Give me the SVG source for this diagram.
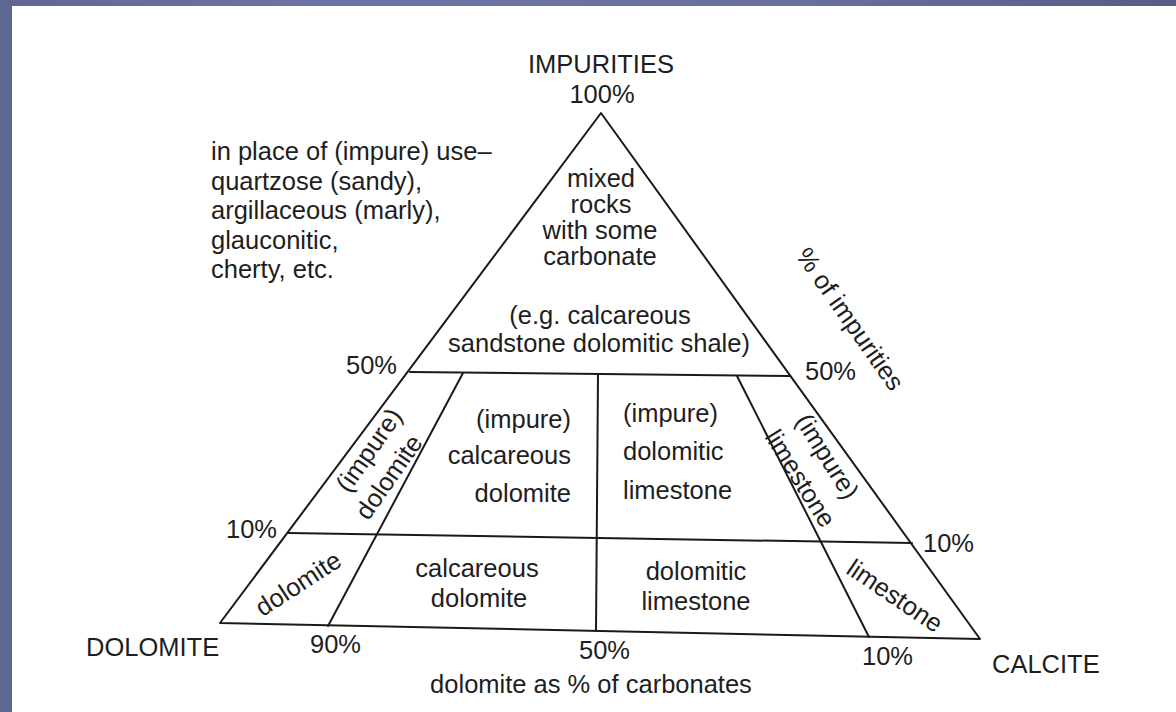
<svg xmlns="http://www.w3.org/2000/svg" width="1176" height="712" viewBox="0 0 1176 712">
<defs>
<linearGradient id="topband" x1="0" y1="0" x2="1" y2="0">
<stop offset="0" stop-color="#5f6894"/>
<stop offset="0.3" stop-color="#6c75a8"/>
<stop offset="0.7" stop-color="#66709e"/>
<stop offset="1" stop-color="#565c84"/>
</linearGradient>
<style>
text{font-family:"Liberation Sans",Arial,sans-serif;font-size:25.5px;fill:#1e1e1e}
.m{text-anchor:middle}
.e{text-anchor:end}
.ln{stroke:#1a1a1a;stroke-width:2;fill:none;stroke-linecap:round;stroke-linejoin:round}
</style>
</defs>
<rect x="0" y="0" width="1176" height="712" fill="#ffffff"/>
<rect x="0" y="0" width="1176" height="6" fill="url(#topband)"/>
<rect x="0" y="0" width="12" height="712" fill="#5d6792"/>

<g id="connectors">
<polygon class="ln" points="601,113 220,623 980,639"/>
<line class="ln" x1="410" y1="372" x2="790" y2="376"/>
<line class="ln" x1="288" y1="533" x2="912" y2="543"/>
<line class="ln" x1="463" y1="373" x2="328" y2="626"/>
<line class="ln" x1="598" y1="375" x2="596" y2="631"/>
<line class="ln" x1="737" y1="376" x2="869" y2="637"/>
</g>

<g id="apex-label">
<text class="m" x="601" y="73">IMPURITIES</text>
<text class="m" x="602" y="103">100%</text>
</g>

<g id="note">
<text x="211" y="160">in place of (impure) use–</text>
<text x="211" y="190">quartzose (sandy),</text>
<text x="211" y="219">argillaceous (marly),</text>
<text x="211" y="249">glauconitic,</text>
<text x="211" y="278">cherty, etc.</text>
</g>

<g id="mixed-rocks">
<text class="m" x="601" y="187">mixed</text>
<text class="m" x="601" y="213">rocks</text>
<text class="m" x="600" y="239">with some</text>
<text class="m" x="600" y="265">carbonate</text>
<text class="m" x="600" y="324">(e.g. calcareous</text>
<text class="m" x="599" y="352">sandstone dolomitic shale)</text>
</g>

<g id="impure-dolomite">
<text class="m" transform="translate(376,455) rotate(-55)">(impure)</text>
<text class="m" transform="translate(396,482) rotate(-55)">dolomite</text>
</g>

<g id="impure-calcareous-dolomite">
<text class="e" x="571" y="428">(impure)</text>
<text class="e" x="571" y="464">calcareous</text>
<text class="e" x="571" y="502">dolomite</text>
</g>

<g id="impure-dolomitic-limestone">
<text x="623" y="422">(impure)</text>
<text x="623" y="460">dolomitic</text>
<text x="623" y="499">limestone</text>
</g>

<g id="impure-limestone">
<text class="m" transform="translate(820,461) rotate(58)">(impure)</text>
<text class="m" transform="translate(793,483) rotate(58)">limestone</text>
</g>

<g id="dolomite">
<text class="m" transform="translate(303,591) rotate(-33)">dolomite</text>
</g>

<g id="calcareous-dolomite">
<text class="m" x="477" y="577">calcareous</text>
<text class="m" x="479" y="607">dolomite</text>
</g>

<g id="dolomitic-limestone">
<text class="m" x="696" y="580">dolomitic</text>
<text class="m" x="696" y="610">limestone</text>
</g>

<g id="limestone">
<text class="m" transform="translate(890,603) rotate(34)">limestone</text>
</g>

<g id="axis-labels">
<text class="e" x="397" y="374">50%</text>
<text x="805" y="380">50%</text>
<text class="e" x="277" y="538">10%</text>
<text x="923" y="552">10%</text>
<text class="m" transform="translate(843,324) rotate(55)">% of impurities</text>
<text x="86" y="656">DOLOMITE</text>
<text x="310" y="653">90%</text>
<text x="579" y="659">50%</text>
<text x="862" y="665">10%</text>
<text x="992" y="673">CALCITE</text>
<text class="m" x="591" y="693">dolomite as % of carbonates</text>
</g>
</svg>
